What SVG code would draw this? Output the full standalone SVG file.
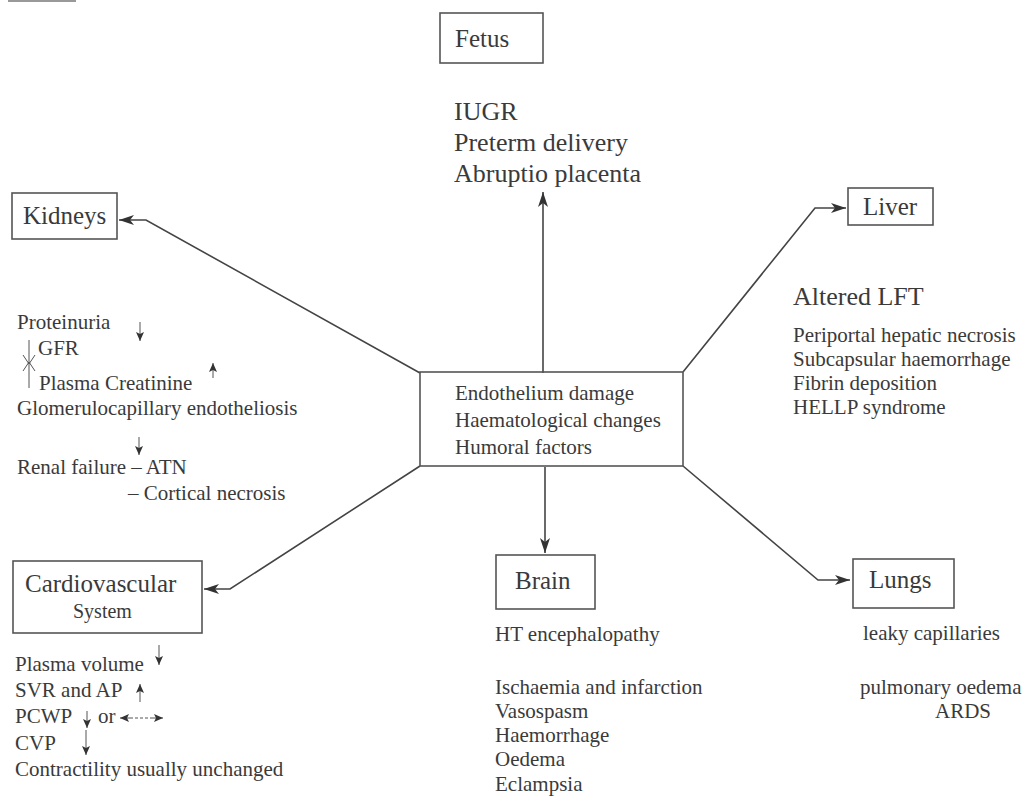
<svg xmlns="http://www.w3.org/2000/svg" width="1028" height="797" viewBox="0 0 1028 797">
<style>
text{font-family:"Liberation Serif","Times New Roman",serif;fill:#3a3a3a}
.h{font-size:25px}
.b{font-size:21px}
.box{fill:none;stroke:#555;stroke-width:1.6}
.con{fill:none;stroke:#444;stroke-width:1.6}
.sa{fill:none;stroke:#555;stroke-width:1}
</style>
<defs>
<marker id="ah" markerUnits="userSpaceOnUse" markerWidth="16" markerHeight="10" refX="15" refY="5" orient="auto">
<path d="M0,0 L15,5 L0,10 L4,5 z" fill="#333"/>
</marker>
<marker id="sh" markerUnits="userSpaceOnUse" markerWidth="10" markerHeight="8" refX="9" refY="4" orient="auto">
<path d="M0,0 L9,4 L0,8 L2,4 z" fill="#333"/>
</marker>
</defs>
<line x1="8" y1="1" x2="76" y2="1" stroke="#777" stroke-width="1.6"/>
<g id="connectors">
<polyline class="con" points="543,373 543,192" marker-end="url(#ah)"/>
<polyline class="con" points="545,467 545,553" marker-end="url(#ah)"/>
<polyline class="con" points="420,373 146,220 119,220" marker-end="url(#ah)"/>
<polyline class="con" points="683,372 815,208 846,208" marker-end="url(#ah)"/>
<polyline class="con" points="420,466 230,589 204,589" marker-end="url(#ah)"/>
<polyline class="con" points="683,466 818,580 850,580" marker-end="url(#ah)"/>
</g>
<g id="center">
<rect class="box" x="420" y="372" width="263" height="94"/>
<text class="b" x="455" y="400">Endothelium damage</text>
<text class="b" x="455" y="427">Haematological changes</text>
<text class="b" x="455" y="454">Humoral factors</text>
</g>
<g id="fetus">
<rect class="box" x="440" y="13" width="103" height="50"/>
<text class="h" x="455" y="47">Fetus</text>
<text x="454" y="120" style="font-size:26px">IUGR</text>
<text x="454" y="151" style="font-size:26px">Preterm delivery</text>
<text x="454" y="182" style="font-size:26px">Abruptio placenta</text>
</g>
<g id="kidneys">
<rect class="box" x="12" y="193" width="105" height="46"/>
<text class="h" x="23" y="224">Kidneys</text>
<text class="b" x="17" y="329">Proteinuria</text>
<line class="sa" x1="140" y1="322" x2="140" y2="341" marker-end="url(#sh)"/>
<text class="b" x="38" y="355">GFR</text>
<line class="sa" x1="29" y1="340" x2="29" y2="388"/>
<polyline class="sa" points="23,355 29,364 35,355"/>
<polyline class="sa" points="23,371 29,362 35,371"/>
<text class="b" x="39" y="390">Plasma Creatinine</text>
<line class="sa" x1="213" y1="378" x2="213" y2="363" marker-end="url(#sh)"/>
<text class="b" x="17" y="415">Glomerulocapillary endotheliosis</text>
<line class="sa" x1="139" y1="437" x2="139" y2="455" marker-end="url(#sh)"/>
<text class="b" x="17" y="474">Renal failure – ATN</text>
<text class="b" x="128" y="500">– Cortical necrosis</text>
</g>
<g id="liver">
<rect class="box" x="848" y="188" width="85" height="37"/>
<text class="h" x="863" y="215">Liver</text>
<text x="793" y="305" style="font-size:26px">Altered LFT</text>
<text class="b" x="793" y="342">Periportal hepatic necrosis</text>
<text class="b" x="793" y="366">Subcapsular haemorrhage</text>
<text class="b" x="793" y="390">Fibrin deposition</text>
<text class="b" x="793" y="414">HELLP syndrome</text>
</g>
<g id="cardiovascular">
<rect class="box" x="13" y="561" width="189" height="72"/>
<text class="h" x="25" y="592">Cardiovascular</text>
<text x="73" y="618" style="font-size:20px">System</text>
<text class="b" x="15" y="671">Plasma volume</text>
<line class="sa" x1="159" y1="645" x2="159" y2="665" marker-end="url(#sh)"/>
<text class="b" x="15" y="697">SVR and AP</text>
<line class="sa" x1="140" y1="702" x2="140" y2="684" marker-end="url(#sh)"/>
<text class="b" x="15" y="723">PCWP</text>
<line class="sa" x1="87" y1="711" x2="87" y2="728" marker-end="url(#sh)"/>
<text class="b" x="98" y="723">or</text>
<line class="sa" x1="133" y1="718" x2="120" y2="718" marker-end="url(#sh)"/>
<line class="sa" x1="150" y1="718" x2="163" y2="718" marker-end="url(#sh)"/>
<line class="sa" x1="135" y1="718" x2="148" y2="718" stroke-dasharray="3,2"/>
<text class="b" x="15" y="750">CVP</text>
<line class="sa" x1="86" y1="730" x2="86" y2="755" marker-end="url(#sh)"/>
<text class="b" x="15" y="776">Contractility usually unchanged</text>
</g>
<g id="brain">
<rect class="box" x="496" y="555" width="99" height="54"/>
<text class="h" x="515" y="589">Brain</text>
<text class="b" x="495" y="641">HT encephalopathy</text>
<text class="b" x="495" y="694">Ischaemia and infarction</text>
<text class="b" x="495" y="718">Vasospasm</text>
<text class="b" x="495" y="742">Haemorrhage</text>
<text class="b" x="495" y="766">Oedema</text>
<text class="b" x="495" y="791">Eclampsia</text>
</g>
<g id="lungs">
<rect class="box" x="853" y="559" width="101" height="49"/>
<text class="h" x="869" y="588">Lungs</text>
<text class="b" x="863" y="640">leaky capillaries</text>
<text class="b" x="860" y="694">pulmonary oedema</text>
<text class="b" x="935" y="718">ARDS</text>
</g>
</svg>
